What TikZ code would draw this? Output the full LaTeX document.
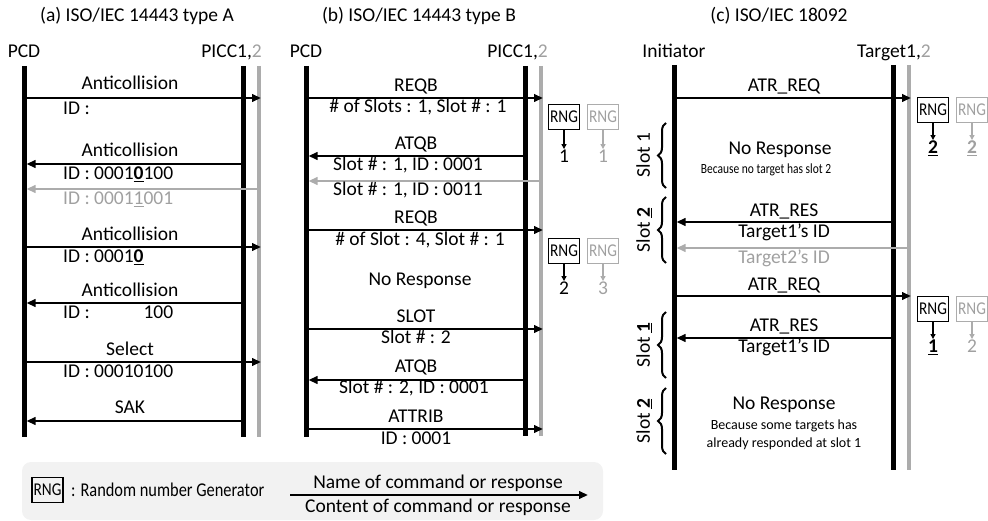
\documentclass[tikz,border=0pt]{standalone}
\usepackage{fontspec}
\setmainfont{Carlito}
\usepackage{graphicx}
\usetikzlibrary{arrows.meta,decorations.pathreplacing}
\definecolor{lgrey}{RGB}{172,172,172}
\definecolor{tgrey}{RGB}{160,160,160}
\definecolor{legbg}{RGB}{242,242,242}
\newcommand\mycond[2]{\scalebox{#1}[1]{#2}}
\newcommand\ub[1]{\underline{\textbf{#1}}}
\begin{document}
\begin{tikzpicture}[x=1pt,y=-1pt,
  every node/.style={font=\fontsize{19.5}{22}\selectfont, inner sep=0pt, text height=12.5pt, text depth=3pt},
  life/.style={line width=5pt},
  glife/.style={line width=4.5pt, lgrey},
  msg/.style={line width=2.2pt, -{Triangle[length=9pt,width=7.5pt]}},
  gmsg/.style={msg, lgrey},
  gtxt/.style={text=tgrey},
  small/.style={font=\fontsize{14}{16}\selectfont, text height=9.5pt, text depth=2.5pt},
  rngbox/.style={draw, line width=1.3pt, minimum width=31pt, minimum height=25pt, inner sep=0pt,
     font=\fontsize{18}{20}\selectfont, text height=11.5pt, text depth=0pt},
  grngbox/.style={rngbox, draw=lgrey, text=tgrey},
  rarr/.style={line width=1.3pt, -{Triangle[length=5pt,width=5pt]}, shorten >=1pt},
  grarr/.style={rarr, lgrey},
  slotbrace/.style={line width=2pt, decorate, decoration={brace, amplitude=8pt}},
]
\useasboundingbox (0,0) rectangle (988,521);

% ---------- titles ----------
\node (ta) at (137,17) {(a) ISO/IEC 14443 type A};
\node (tb) at (419,17) {(b) ISO/IEC 14443 type B};
\node (tc) at (779,17) {(c) ISO/IEC 18092};

% ---------- actors ----------
\node (aP) at (24,53) {PCD};
\node[anchor=east] (aQ) at (262,53) {PICC1,{\color{tgrey}2}};
\node (bP) at (306,53) {PCD};
\node[anchor=east] (bQ) at (548,53) {PICC1,{\color{tgrey}2}};
\node (cP) at (674,53) {Initiator};
\node[anchor=east] (cQ) at (931,53) {Target1,{\color{tgrey}2}};

% ---------- lifelines ----------
\coordinate (aPt) at (24,66);  \coordinate (aPb) at (24,437);
\coordinate (aQt) at (243,66); \coordinate (aQb) at (243,437);
\coordinate (aGt) at (259,66); \coordinate (aGb) at (259,437);
\coordinate (bPt) at (306,66); \coordinate (bPb) at (306,437);
\coordinate (bQt) at (525,66); \coordinate (bQb) at (525,436);
\coordinate (bGt) at (541,66); \coordinate (bGb) at (541,436);
\coordinate (cPt) at (674,65); \coordinate (cPb) at (674,470);
\coordinate (cQt) at (893,65); \coordinate (cQb) at (893,470);
\coordinate (cGt) at (909,65); \coordinate (cGb) at (909,470);
\draw[life] (aPt) -- (aPb);
\draw[life] (aQt) -- (aQb);
\draw[glife] (aGt) -- (aGb);
\draw[life] (bPt) -- (bPb);
\draw[life] (bQt) -- (bQb);
\draw[glife] (bGt) -- (bGb);
\draw[life] (cPt) -- (cPb);
\draw[life] (cQt) -- (cQb);
\draw[glife] (cGt) -- (cGb);

% ---------- panel (a) ----------
\coordinate (a1s) at (24,98);   \coordinate (a1e) at (261,98);
\coordinate (a2s) at (243,164); \coordinate (a2e) at (26.5,164);
\coordinate (a3s) at (259,189); \coordinate (a3e) at (26.5,189);
\coordinate (a4s) at (24,247);  \coordinate (a4e) at (261,247);
\coordinate (a5s) at (243,303); \coordinate (a5e) at (26.5,303);
\coordinate (a6s) at (24,362);  \coordinate (a6e) at (261,362);
\coordinate (a7s) at (243,421); \coordinate (a7e) at (26.5,421);
\draw[msg] (a1s) -- (a1e);
\draw[msg] (a2s) -- (a2e);
\draw[gmsg] (a3s) -- (a3e);
\draw[msg] (a4s) -- (a4e);
\draw[msg] (a5s) -- (a5e);
\draw[msg] (a6s) -- (a6e);
\draw[msg] (a7s) -- (a7e);
\node (la1) at (130,85) {Anticollision};
\node[anchor=west] (la1b) at (63,110) {ID :};
\node (la2) at (130,152) {Anticollision};
\node[anchor=west] (la2b) at (63,175) {ID : 0001\ub{0}100};
\node[anchor=west, gtxt] (la3b) at (63,200) {ID : 0001\underline{1}001};
\node (la4) at (130,236) {Anticollision};
\node[anchor=west] (la4b) at (63,258) {ID : 0001\ub{0}};
\node (la5) at (130,292) {Anticollision};
\node[anchor=west] (la5b) at (63,314) {ID : \phantom{00010}100};
\node (la6) at (130,351) {Select};
\node[anchor=west] (la6b) at (63,373) {ID : 00010100};
\node (la7) at (130,409) {SAK};

% ---------- panel (b) ----------
\coordinate (b1s) at (306,98);  \coordinate (b1e) at (543,98);
\coordinate (b2s) at (525,156); \coordinate (b2e) at (308.5,156);
\coordinate (b3s) at (541,181); \coordinate (b3e) at (308.5,181);
\coordinate (b4s) at (306,230); \coordinate (b4e) at (543,230);
\coordinate (b5s) at (306,329); \coordinate (b5e) at (543,329);
\coordinate (b6s) at (525,380); \coordinate (b6e) at (308.5,380);
\coordinate (b7s) at (306,429); \coordinate (b7e) at (543,429);
\draw[msg] (b1s) -- (b1e);
\draw[msg] (b2s) -- (b2e);
\draw[gmsg] (b3s) -- (b3e);
\draw[msg] (b4s) -- (b4e);
\draw[msg] (b5s) -- (b5e);
\draw[msg] (b6s) -- (b6e);
\draw[msg] (b7s) -- (b7e);
\node (lb1) at (416,87) {REQB};
\node (lb1b) at (418,108) {\# of Slots : 1, Slot \# : 1};
\node (lb2) at (416,145) {ATQB};
\node[anchor=west] (lb2b) at (333,166) {Slot \# : 1, ID : 0001};
\node[anchor=west] (lb3b) at (333,191) {Slot \# : 1, ID : 0011};
\node (lb4) at (416,219) {REQB};
\node (lb4b) at (420,241) {\# of Slot : 4, Slot \# : 1};
\node (lbnr) at (420,281) {No Response};
\node (lb5) at (416,318) {SLOT};
\node (lb5b) at (416,339) {Slot \# : 2};
\node (lb6) at (416,368) {ATQB};
\node (lb6b) at (414,389) {Slot \# : 2, ID : 0001};
\node (lb7) at (416,418) {ATTRIB};
\node (lb7b) at (416,440) {ID : 0001};
% RNG (b)
\node[rngbox] (rb1) at (564,117) {\mycond{0.85}{RNG}};
\node (db1) at (564,158) {1};
\draw[rarr] (rb1.south) -- (db1.north);
\node[grngbox] (grb1) at (603,117) {\mycond{0.85}{RNG}};
\node[gtxt] (gdb1) at (603,158) {1};
\draw[grarr] (grb1.south) -- (gdb1.north);
\node[rngbox] (rb2) at (564,251) {\mycond{0.85}{RNG}};
\node (db2) at (564,290) {2};
\draw[rarr] (rb2.south) -- (db2.north);
\node[grngbox] (grb2) at (603,251) {\mycond{0.85}{RNG}};
\node[gtxt] (gdb2) at (603,290) {3};
\draw[grarr] (grb2.south) -- (gdb2.north);

% ---------- panel (c) ----------
\coordinate (c1s) at (674,98);  \coordinate (c1e) at (911,98);
\coordinate (c2s) at (893,222); \coordinate (c2e) at (676.5,222);
\coordinate (c3s) at (909,248); \coordinate (c3e) at (676.5,248);
\coordinate (c4s) at (674,296); \coordinate (c4e) at (911,296);
\coordinate (c5s) at (893,338); \coordinate (c5e) at (676.5,338);
\draw[msg] (c1s) -- (c1e);
\draw[msg] (c2s) -- (c2e);
\draw[gmsg] (c3s) -- (c3e);
\draw[msg] (c4s) -- (c4e);
\draw[msg] (c5s) -- (c5e);
\node (lc1) at (784,87) {ATR\_REQ};
\node (lcnr1) at (780,150) {No Response};
\node[small] (lcnr1b) at (766,170) {\mycond{0.82}{Because no target has slot 2}};
\node (lc2) at (784,212) {ATR\_RES};
\node (lc2b) at (784,233) {Target1’s ID};
\node[gtxt] (lc3b) at (784,259) {Target2’s ID};
\node (lc4) at (784,286) {ATR\_REQ};
\node (lc5) at (784,327) {ATR\_RES};
\node (lc5b) at (784,348) {Target1’s ID};
\node (lcnr2) at (784,405) {No Response};
\node[small] (lcnr2b) at (784,426) {Because some targets has};
\node[small] (lcnr2c) at (784,444) {already responded at slot 1};
% slot braces
\coordinate (s1b) at (666,188); \coordinate (s1t) at (666,123);
\coordinate (s2b) at (666,263); \coordinate (s2t) at (666,197);
\coordinate (s3b) at (666,378); \coordinate (s3t) at (666,312);
\coordinate (s4b) at (666,454); \coordinate (s4t) at (666,388);
\draw[slotbrace] (s1b) -- (s1t);
\draw[slotbrace] (s2b) -- (s2t);
\draw[slotbrace] (s3b) -- (s3t);
\draw[slotbrace] (s4b) -- (s4t);
\node[rotate=90] (sl1) at (645,155) {Slot 1};
\node[rotate=90] (sl2) at (645,230) {Slot \ub{2}};
\node[rotate=90] (sl3) at (645,345) {Slot \ub{1}};
\node[rotate=90] (sl4) at (645,421) {Slot \ub{2}};
% RNG (c)
\node[rngbox] (rc1) at (933,110) {\mycond{0.85}{RNG}};
\node (dc1) at (933,149) {\ub{2}};
\draw[rarr] (rc1.south) -- (dc1.north);
\node[grngbox] (grc1) at (972,110) {\mycond{0.85}{RNG}};
\node[gtxt] (gdc1) at (972,149) {\ub{2}};
\draw[grarr] (grc1.south) -- (gdc1.north);
\node[rngbox] (rc2) at (933,309) {\mycond{0.85}{RNG}};
\node (dc2) at (933,348) {\ub{1}};
\draw[rarr] (rc2.south) -- (dc2.north);
\node[grngbox] (grc2) at (972,309) {\mycond{0.85}{RNG}};
\node[gtxt] (gdc2) at (972,348) {2};
\draw[grarr] (grc2.south) -- (gdc2.north);

% ---------- legend ----------
\fill[legbg, rounded corners=9pt] (22,462) rectangle (603,520);
\node[rngbox] (lrng) at (47.5,490) {\mycond{0.85}{RNG}};
\node[anchor=west] (ltxt) at (71,492) {\mycond{0.84}{: Random number Generator}};
\coordinate (lgs) at (290,495); \coordinate (lge) at (588,495);
\draw[msg] (lgs) -- (lge);
\node (lgn) at (438,484) {Name of command or response};
\node (lgc) at (438,508) {Content of command or response};
\end{tikzpicture}
\end{document}
